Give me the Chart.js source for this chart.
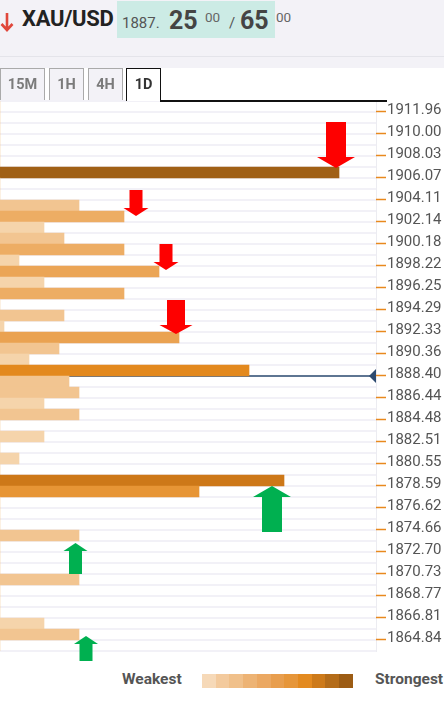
<!DOCTYPE html>
<html>
<head>
<meta charset="utf-8">
<script src="https://cdn.jsdelivr.net/npm/chart.js@4"></script>
<style>
  body { margin: 0; width: 444px; height: 708px; background: #fff; font-family: Roboto, sans-serif; overflow: hidden; position: relative; }
  .top { position: absolute; left: 0; top: 0; width: 444px; height: 56px; background: #f3f2f7; border-bottom: 1px solid #e4e4ea; z-index: 2; }
  .band { position: absolute; left: 0; top: 57px; width: 444px; height: 11px; background: #f3f2f7; z-index: 2; }
  .arrow { position: absolute; left: 0; top: 12px; }
  .pair { position: absolute; left: 22px; top: 6px; font-weight: 700; font-size: 22px; color: #222; letter-spacing: -0.3px; }
  .quote { position: absolute; left: 117px; top: 1px; width: 158px; height: 37px; background: #ccebe5; }
  .q { position: absolute; white-space: nowrap; }
  .tabs { position: absolute; left: 0; top: 68px; width: 444px; height: 33px; z-index: 2; }
  .tab { position: absolute; top: 0; height: 32px; box-sizing: border-box; border: 1px solid #aaa; border-bottom: none; background: #f3f2f7; color: #7b7b7b; font-weight: 700; font-size: 14.5px; text-align: center; line-height: 31px; }
  .tab.on { background: #fff; border: 1.5px solid #111; border-bottom: none; color: #333; height: 33px; }
  .tabline { position: absolute; left: 160px; top: 100px; width: 227px; height: 1.5px; background: #111; z-index: 3; }
  #wrap { position: absolute; left: 0; top: 91px; width: 444px; height: 570px; z-index: 1; }
  .legend { position: absolute; top: 670px; font-weight: 700; font-size: 15.5px; color: #555; }
  .swatches { position: absolute; left: 202px; top: 674px; height: 14px; display: flex; }
  .swatches div { width: 13.73px; height: 14px; }
</style>
</head>
<body>
<div class="top">
  <svg class="arrow" width="16" height="20" viewBox="0 0 16 20">
    <path d="M7 1 V18 M1.5 12 L7 18 L12.5 12" stroke="#e0473b" stroke-width="2.6" fill="none"/>
  </svg>
  <div class="pair">XAU/USD</div>
  <div class="quote"></div>
  <div class="q" style="left:122px;top:14px;font-size:15px;color:#555;">1887.</div>
  <div class="q" style="left:169px;top:6px;font-size:25px;font-weight:700;color:#444;">25</div>
  <div class="q" style="left:205px;top:9px;font-size:13.5px;color:#666;">00</div>
  <div class="q" style="left:229px;top:14px;font-size:15px;color:#555;">/</div>
  <div class="q" style="left:240px;top:6px;font-size:25px;font-weight:700;color:#444;">65</div>
  <div class="q" style="left:276px;top:9px;font-size:13.5px;color:#666;">00</div>
</div>
<div class="band"></div>
<div class="tabs">
  <div class="tab" style="left:0;width:45px;">15M</div>
  <div class="tab" style="left:49px;width:35px;">1H</div>
  <div class="tab" style="left:88px;width:35px;">4H</div>
  <div class="tab on" style="left:126px;width:35px;">1D</div>
</div>
<div class="tabline"></div>
<div id="wrap"><canvas id="chart"></canvas></div>
<div class="legend" style="left:122px;">Weakest</div>
<div class="swatches" id="swatches"></div>
<div class="legend" style="left:375px;">Strongest</div>

<script>
// price levels, top to bottom; labels only on every other row
const priceLabels = ['1911.96', '1910.00', '1908.03', '1906.07', '1904.11', '1902.14', '1900.18',
    '1898.22', '1896.25', '1894.29', '1892.33', '1890.36', '1888.40', '1886.44', '1884.48',
    '1882.51', '1880.55', '1878.59', '1876.62', '1874.66', '1872.70', '1870.73', '1868.77',
    '1866.81', '1864.84'];

// confluence strength per row (50 rows)
const strength = [
    0, 0, 0, 0, 0, 0, 339, 0, 0, 79,
    124, 44, 64, 124, 19, 159, 44, 124, 0, 64,
    4, 179, 59, 29, 249, 69, 79, 44, 79, 0,
    44, 0, 19, 0, 284, 199, 0, 0, 0, 79,
    0, 0, 0, 79, 0, 0, 0, 44, 79, 0
];

// current price sits on the boundary below row 24
const currentRow = 24.5;

// arrow annotations: x in strength units, tip in row units
const arrowX = [336, 136, 166, 176, 272, 75.5, 86];
const arrowTip = [5.6, 9.95, 14.86, 20.68, 34.5, 39.68, 48.14];
const arrowDir = ['down', 'down', 'down', 'down', 'up', 'up', 'up'];
const arrowKind = ['large', 'small', 'small', 'medium', 'large', 'tall', 'tall'];

const legendColors = ['#f6d9b8', '#f3ca9d', '#f0c08a', '#edb374', '#eba862', '#e89e4e',
    '#e6963a', '#e38a20', '#cd7a1a', '#b46c19', '#9c5c14'];

const arrowStyles = {
    large: { h: 46, shaft: 20, head: 38, headH: 11 },
    medium: { h: 34, shaft: 18, head: 33, headH: 9 },
    small: { h: 26, shaft: 13, head: 25, headH: 8 },
    tall: { h: 31, shaft: 13, head: 24, headH: 8 }
};

const rowLabels = strength.map((v, i) => (i % 2 === 0 && priceLabels[i / 2]) ? priceLabels[i / 2] : '');

function barColor(v) {
    if (v <= 45) return '#f5d4ab';
    if (v <= 80) return '#f2c591';
    if (v <= 130) return '#edad64';
    if (v <= 165) return '#eba556';
    if (v <= 185) return '#eaa251';
    if (v <= 210) return '#e79535';
    if (v <= 260) return '#e3891e';
    if (v <= 300) return '#cd7818';
    return '#a06016';
}

const sw = document.getElementById('swatches');
legendColors.forEach(c => {
    const d = document.createElement('div');
    d.style.background = c;
    sw.appendChild(d);
});

const overlay = {
    id: 'overlay',
    beforeDatasetsDraw(chart) {
        const { ctx, chartArea, scales } = chart;
        const y = scales.y.getPixelForValue(currentRow);
        ctx.save();
        ctx.strokeStyle = '#2d4b70';
        ctx.lineWidth = 1.5;
        ctx.beginPath();
        ctx.moveTo(chartArea.left, y);
        ctx.lineTo(chartArea.right - 6, y);
        ctx.stroke();
        ctx.fillStyle = '#2d4b70';
        ctx.beginPath();
        ctx.moveTo(chartArea.right - 7, y);
        ctx.lineTo(chartArea.right, y - 7);
        ctx.lineTo(chartArea.right, y + 7);
        ctx.closePath();
        ctx.fill();
        ctx.restore();
    },
    afterDatasetsDraw(chart) {
        const { ctx, chartArea, scales } = chart;
        ctx.save();
        // orange tick under each price label
        ctx.strokeStyle = '#e8891e';
        ctx.lineWidth = 1.5;
        rowLabels.forEach((lab, i) => {
            if (!lab) return;
            const y = Math.round(scales.y.getPixelForValue(i + 0.5)) - 0.5;
            ctx.beginPath();
            ctx.moveTo(chartArea.right, y);
            ctx.lineTo(chartArea.right + 10, y);
            ctx.stroke();
        });
        // support / resistance arrows
        arrowX.forEach((xv, i) => {
            const s = arrowStyles[arrowKind[i]];
            const x = scales.x.getPixelForValue(xv);
            const tip = scales.y.getPixelForValue(arrowTip[i]);
            const d = arrowDir[i] === 'down' ? -1 : 1;
            const base = tip + d * s.headH;
            const end = tip + d * s.h;
            ctx.fillStyle = arrowDir[i] === 'down' ? '#fe0000' : '#00b050';
            ctx.beginPath();
            ctx.moveTo(x, tip);
            ctx.lineTo(x + s.head / 2, base);
            ctx.lineTo(x + s.shaft / 2, base);
            ctx.lineTo(x + s.shaft / 2, end);
            ctx.lineTo(x - s.shaft / 2, end);
            ctx.lineTo(x - s.shaft / 2, base);
            ctx.lineTo(x - s.head / 2, base);
            ctx.closePath();
            ctx.fill();
        });
        ctx.restore();
    }
};

new Chart(document.getElementById('chart'), {
    type: 'bar',
    data: {
        labels: rowLabels,
        datasets: [{
            data: strength,
            backgroundColor: strength.map(barColor),
            barPercentage: 1,
            categoryPercentage: 1,
            borderWidth: 0
        }]
    },
    options: {
        indexAxis: 'y',
        responsive: true,
        maintainAspectRatio: false,
        animation: false,
        layout: { padding: { top: 10, bottom: 10, left: 0, right: 0 } },
        plugins: { legend: { display: false }, tooltip: { enabled: false } },
        scales: {
            x: { display: false, min: 0, max: 376 },
            y: {
                position: 'right',
                afterFit(scale) {
                    scale.width = 68;
                    scale.paddingTop = 0;
                    scale.paddingBottom = 0;
                },
                grid: { color: '#f2f1f7', lineWidth: 2, drawTicks: false, offset: true },
                border: { display: true, color: '#ececf1', width: 1 },
                ticks: {
                    autoSkip: false,
                    padding: 11,
                    labelOffset: 3.5,
                    color: '#555',
                    font: { family: 'Roboto', size: 15 }
                }
            }
        }
    },
    plugins: [overlay]
});
</script>
</body>
</html>
